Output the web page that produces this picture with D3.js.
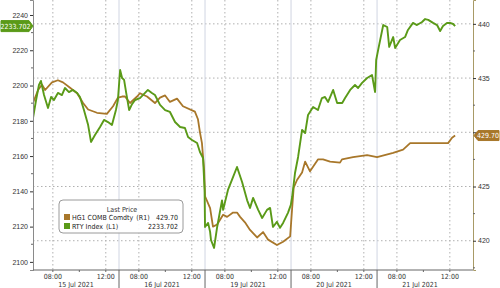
<!DOCTYPE html>
<html lang="en">
<head>
<meta charset="UTF-8">
<title>RTY vs Copper</title>
<script src="https://cdn.jsdelivr.net/npm/d3@7"></script>
<style>
  body { margin: 0; background: #fff; }
  svg { display: block; font-family: "DejaVu Sans Condensed", "Liberation Sans Narrow", "Liberation Sans", sans-serif; }
</style>
</head>
<body>
<div id="chart"></div>
<script>
// sessions shown on the axis (non-trading hours removed), 06:30-13:00 each day
const days = ["15", "16", "19", "20", "21"];
const dayLabels = ["15 Jul 2021", "16 Jul 2021", "19 Jul 2021", "20 Jul 2021", "21 Jul 2021"];
const timeTicks = ["08:00", "12:00"];
const minorTimeTicks = ["10:00"];

const leftTicks = [2100, 2120, 2140, 2160, 2180, 2200, 2220, 2240];
const rightTicks = [420, 425, 430, 435, 440];

// RTY Index (L1)
const rtyTimes = [
  "15 06:30","15 06:44","15 06:57","15 07:06","15 07:20","15 07:38","15 07:52","15 08:05","15 08:23","15 08:41",
  "15 08:55","15 09:13","15 09:31","15 09:50","15 10:03","15 10:21","15 10:40","15 10:53","15 11:11","15 11:34",
  "15 11:52","15 12:10","15 12:28","15 12:46","15 12:55",
  "16 06:35","16 06:44","16 06:53","16 07:02","16 07:16","16 07:29","16 07:43","16 08:05","16 08:28","16 08:41",
  "16 08:59","16 09:13","16 09:36","16 09:59","16 10:21","16 10:44","16 11:07","16 11:29","16 11:43","16 12:01",
  "16 12:24","16 12:37","16 12:51","16 12:58",
  "19 06:30","19 06:44","19 06:53","19 06:57","19 07:11","19 07:25","19 07:47","19 07:52","19 08:14","19 08:32",
  "19 08:55","19 09:18","19 09:41","19 09:54","19 10:08","19 10:31","19 10:49","19 11:11","19 11:25","19 11:38",
  "19 11:56","19 12:10","19 12:24","19 12:46","19 12:59",
  "20 06:35","20 06:48","20 07:02","20 07:20","20 07:34","20 07:47","20 08:10","20 08:32","20 08:50","20 09:04",
  "20 09:18","20 09:41","20 09:59","20 10:22","20 10:35","20 10:58","20 11:20","20 11:34","20 11:52","20 12:15",
  "20 12:37","20 12:51","20 12:56",
  "21 06:35","21 06:58","21 07:16","21 07:25","21 07:43","21 07:52","21 08:14","21 08:37","21 08:50","21 09:13",
  "21 09:31","21 09:54","21 10:08","21 10:22","21 10:44","21 11:02","21 11:16","21 11:29","21 11:47","21 12:01",
  "21 12:15","21 12:24"
];
const rtyValues = [
  2181.6,2191.8,2200.3,2202.6,2194.6,2187.3,2193.5,2191.8,2195.8,2194.6,
  2198.6,2196.3,2197.5,2195.8,2193.5,2186.1,2177.6,2168.0,2172.0,2176.5,
  2180.5,2179.3,2177.6,2186.1,2191.8,
  2208.8,2204.3,2203.2,2196.3,2186.1,2189.5,2191.8,2192.9,2195.8,2197.5,
  2195.8,2194.6,2189.0,2186.1,2185.0,2179.3,2176.5,2175.9,2170.8,2169.1,
  2167.4,2162.3,2158.9,2141.0,
  2119.8,2122.1,2117.0,2112.4,2107.9,2119.8,2134.9,2129.5,2140.8,2146.5,
  2153.8,2145.3,2134.9,2130.6,2136.3,2129.5,2124.9,2129.5,2130.6,2119.8,
  2122.7,2119.3,2122.1,2127.8,2132.3,
  2136.8,2150.4,2159.5,2174.8,2173.1,2183.3,2187.8,2186.1,2192.9,2193.5,
  2190.7,2197.5,2190.1,2190.1,2192.9,2197.5,2200.3,2198.6,2201.5,2204.3,
  2206.0,2196.3,2214.5,
  2220.2,2234.3,2233.2,2221.9,2227.5,2221.3,2225.8,2227.5,2231.5,2235.5,
  2234.3,2236.0,2237.7,2237.2,2235.5,2234.3,2230.9,2233.8,2235.5,2235.5,
  2234.9,2233.702
];

// HG1 COMB Comdty (R1)
const hgTimes = [
  "15 06:30","15 06:53","15 07:11","15 07:25","15 07:56","15 08:23","15 08:46","15 09:18","15 09:50","15 10:17",
  "15 10:40","15 11:20","15 12:05","15 12:33","15 12:55",
  "16 06:44","16 06:57","16 07:20","16 07:52","16 08:05","16 08:37","16 09:13","16 09:36","16 09:59","16 10:21",
  "16 10:53","16 11:20","16 12:14","16 12:28","16 12:37","16 12:46","16 12:56",
  "19 06:30","19 06:53","19 07:06","19 07:25","19 07:52","19 08:10","19 08:37","19 08:55","19 09:09","19 09:31",
  "19 09:54","19 10:26","19 10:53","19 11:16","19 11:56","19 12:24","19 12:56",
  "20 06:35","20 06:42","20 06:57","20 07:20","20 07:34","20 07:56","20 08:32","20 08:55","20 09:27","20 10:12",
  "20 10:21","20 11:11","20 12:15",
  "21 06:30","21 07:43","21 08:28","21 09:00","21 11:52","21 12:10","21 12:24"
];
const hgValues = [
  432.7,433.9,434.4,433.9,434.6,434.8,434.6,434.1,433.6,432.7,
  432.1,431.8,431.7,432.4,433.2,
  433.3,433.3,432.7,433.3,433.6,433.3,432.7,433.2,433.4,432.8,
  433.1,432.4,431.9,431.2,430.0,429.0,426.5,
  424.1,423.0,421.3,421.5,422.4,422.2,422.6,422.6,422.2,421.7,
  421.0,420.3,420.8,420.1,419.6,419.9,420.4,
  423.0,424.9,425.6,426.3,427.3,426.4,427.5,427.5,427.3,427.2,
  427.5,427.7,427.9,
  427.7,428.1,428.4,429.0,429.0,429.5,429.70
];

const sessionOpen = 6.5, sessionLen = 6.5;
function tradingHours(s) {
  const [d, hm] = s.split(" ");
  const [h, m] = hm.split(":").map(Number);
  return days.indexOf(d) * sessionLen + h + m / 60 - sessionOpen;
}

const W = 500, H = 288;
const plot = { left: 33, right: 473, top: 0, bottom: 270 };
const green = "#5a9a18", brown = "#a8772a";
const fs = 7;

const x = d3.scaleLinear().domain([0, 33.25]).range([plot.left, plot.right]);
const yL = d3.scaleLinear().domain([2095.4, 2248.5]).range([plot.bottom, plot.top]);
const yR = d3.scaleLinear().domain([417.3, 442.2]).range([plot.bottom, plot.top]);

const svg = d3.select("#chart").append("svg").attr("width", W).attr("height", H);

svg.append("clipPath").attr("id", "clip").append("rect")
  .attr("x", plot.left).attr("y", plot.top)
  .attr("width", plot.right - plot.left).attr("height", plot.bottom - plot.top);

// grid
const grid = svg.append("g");
grid.selectAll(".hgrid").data(rightTicks).join("line")
  .attr("x1", plot.left).attr("x2", plot.right)
  .attr("y1", d => yR(d)).attr("y2", d => yR(d))
  .attr("stroke", "#b0b0b0").attr("stroke-dasharray", "1.5,2.5");

const gridTimes = [];
days.forEach(d => timeTicks.forEach(t => gridTimes.push(d + " " + t)));
grid.selectAll(".vgrid").data(gridTimes).join("line")
  .attr("x1", d => x(tradingHours(d))).attr("x2", d => x(tradingHours(d)))
  .attr("y1", plot.top).attr("y2", plot.bottom)
  .attr("stroke", "#b0b0b0").attr("stroke-dasharray", "1.5,2.5");

const seps = d3.range(1, days.length).map(i => i * sessionLen);
grid.selectAll(".sep").data(seps).join("line")
  .attr("x1", d => x(d)).attr("x2", d => x(d))
  .attr("y1", plot.top).attr("y2", plot.bottom)
  .attr("stroke", "#d0d5e2").attr("stroke-width", 1);

// lines
const lineL = d3.line().x(d => x(tradingHours(d[0]))).y(d => yL(d[1]));
const lineR = d3.line().x(d => x(tradingHours(d[0]))).y(d => yR(d[1]));

svg.append("path")
  .datum(d3.zip(hgTimes, hgValues))
  .attr("clip-path", "url(#clip)")
  .attr("fill", "none").attr("stroke", brown).attr("stroke-width", 1.8)
  .attr("stroke-linejoin", "round")
  .attr("d", lineR);

svg.append("path")
  .datum(d3.zip(rtyTimes, rtyValues))
  .attr("clip-path", "url(#clip)")
  .attr("fill", "none").attr("stroke", green).attr("stroke-width", 1.9)
  .attr("stroke-linejoin", "round")
  .attr("d", lineL);

// left axis
const axL = svg.append("g").attr("transform", `translate(${plot.left},0)`)
  .call(d3.axisLeft(yL).tickValues(leftTicks).tickSize(3).tickPadding(2).tickFormat(d3.format("d")));
axL.select(".domain").attr("stroke", "#8a8a8a");
axL.selectAll(".tick line").attr("stroke", "#333");
axL.selectAll("text").attr("font-size", fs).attr("fill", "#333");
axL.selectAll(".minor").data(leftTicks.map(d => d + 10).filter(d => d < 2248))
  .join("line").attr("class", "minor")
  .attr("x1", -2).attr("x2", 0)
  .attr("y1", d => yL(d)).attr("y2", d => yL(d)).attr("stroke", "#666");

// right axis (430 label sits under the last-price tag)
const lastL = rtyValues[rtyValues.length - 1];
const lastR = hgValues[hgValues.length - 1];
const axR = svg.append("g").attr("transform", `translate(${plot.right},0)`)
  .call(d3.axisRight(yR).tickValues(rightTicks).tickSize(3).tickPadding(2)
    .tickFormat(d => Math.abs(yR(d) - yR(lastR)) < 9 ? "" : d3.format("d")(d)));
axR.select(".domain").attr("stroke", "#a89a66");
axR.selectAll(".tick line").attr("stroke", "#333");
axR.selectAll("text").attr("font-size", fs).attr("fill", "#333");
axR.selectAll(".minor").data([417.5, 422.5, 427.5, 432.5, 437.5])
  .join("line").attr("class", "minor")
  .attr("x1", 0).attr("x2", 2)
  .attr("y1", d => yR(d)).attr("y2", d => yR(d)).attr("stroke", "#666");

// bottom axis
const axB = svg.append("g");
axB.append("line")
  .attr("x1", plot.left).attr("x2", plot.right)
  .attr("y1", plot.bottom).attr("y2", plot.bottom)
  .attr("stroke", "#666");
axB.selectAll(".sepb").data(seps).join("line")
  .attr("x1", d => x(d)).attr("x2", d => x(d))
  .attr("y1", plot.bottom).attr("y2", H)
  .attr("stroke", "#666");
const minorTimes = [];
days.forEach(d => minorTimeTicks.forEach(t => minorTimes.push(d + " " + t)));
axB.selectAll(".mt").data(gridTimes.concat(minorTimes)).join("line")
  .attr("x1", d => x(tradingHours(d))).attr("x2", d => x(tradingHours(d)))
  .attr("y1", plot.bottom).attr("y2", plot.bottom + 2)
  .attr("stroke", "#666");
axB.selectAll(".tl").data(gridTimes).join("text")
  .attr("x", d => x(tradingHours(d))).attr("y", 279)
  .attr("text-anchor", "middle").attr("font-size", fs).attr("fill", "#333")
  .text(d => d.split(" ")[1]);
axB.selectAll(".dl").data(dayLabels).join("text")
  .attr("x", (d, i) => x(i * sessionLen + sessionLen / 2)).attr("y", 287)
  .attr("text-anchor", "middle").attr("font-size", fs).attr("fill", "#333")
  .text(d => d);

// last value tags
const yl = yL(lastL), yr = yR(lastR);
svg.append("path")
  .attr("d", `M1,${yl - 5.5} H29 L33,${yl} L29,${yl + 5.5} H1 Z`)
  .attr("fill", green).attr("stroke", green).attr("stroke-linejoin", "round");
svg.append("text").attr("x", 15.5).attr("y", yl + 2.5)
  .attr("text-anchor", "middle").attr("font-size", fs).attr("fill", "#fff")
  .text(d3.format(".3f")(lastL));
svg.append("path")
  .attr("d", `M${plot.right + 1},${yr} L${plot.right + 5},${yr - 5} H499 V${yr + 5} H${plot.right + 5} Z`)
  .attr("fill", brown).attr("stroke", brown).attr("stroke-linejoin", "round");
svg.append("text").attr("x", 488).attr("y", yr + 2.5)
  .attr("text-anchor", "middle").attr("font-size", fs).attr("fill", "#fff")
  .text(d3.format(".2f")(lastR));

// legend
const lg = svg.append("g").attr("transform", "translate(59,200)");
lg.append("rect").attr("width", 124).attr("height", 33).attr("rx", 4)
  .attr("fill", "#fff").attr("fill-opacity", 0.9).attr("stroke", "#9a9a9a");
lg.append("text").attr("x", 63).attr("y", 11.5).attr("text-anchor", "middle")
  .attr("font-size", fs).attr("fill", "#333").text("Last Price");
const legendItems = [
  { name: "HG1 COMB Comdty", axis: "(R1)", value: d3.format(".2f")(lastR), color: brown },
  { name: "RTY Index", axis: "(L1)", value: d3.format(".3f")(lastL), color: green }
];
const rows = lg.selectAll(".row").data(legendItems).join("g")
  .attr("transform", (d, i) => `translate(0,${14 + i * 9})`);
rows.append("rect").attr("x", 5).attr("y", 0).attr("width", 6).attr("height", 6)
  .attr("fill", d => d.color);
rows.append("text").attr("class", "nm").attr("x", 13).attr("y", 6)
  .attr("font-size", fs).attr("fill", "#222").text(d => d.name);
rows.append("text").attr("x", function () {
    return 13 + this.parentNode.querySelector(".nm").getComputedTextLength() + 3;
  }).attr("y", 6).attr("font-size", fs).attr("fill", "#222").text(d => d.axis);
rows.append("text").attr("x", 119).attr("y", 6).attr("text-anchor", "end")
  .attr("font-size", fs).attr("fill", "#222").text(d => d.value);
</script>
</body>
</html>
